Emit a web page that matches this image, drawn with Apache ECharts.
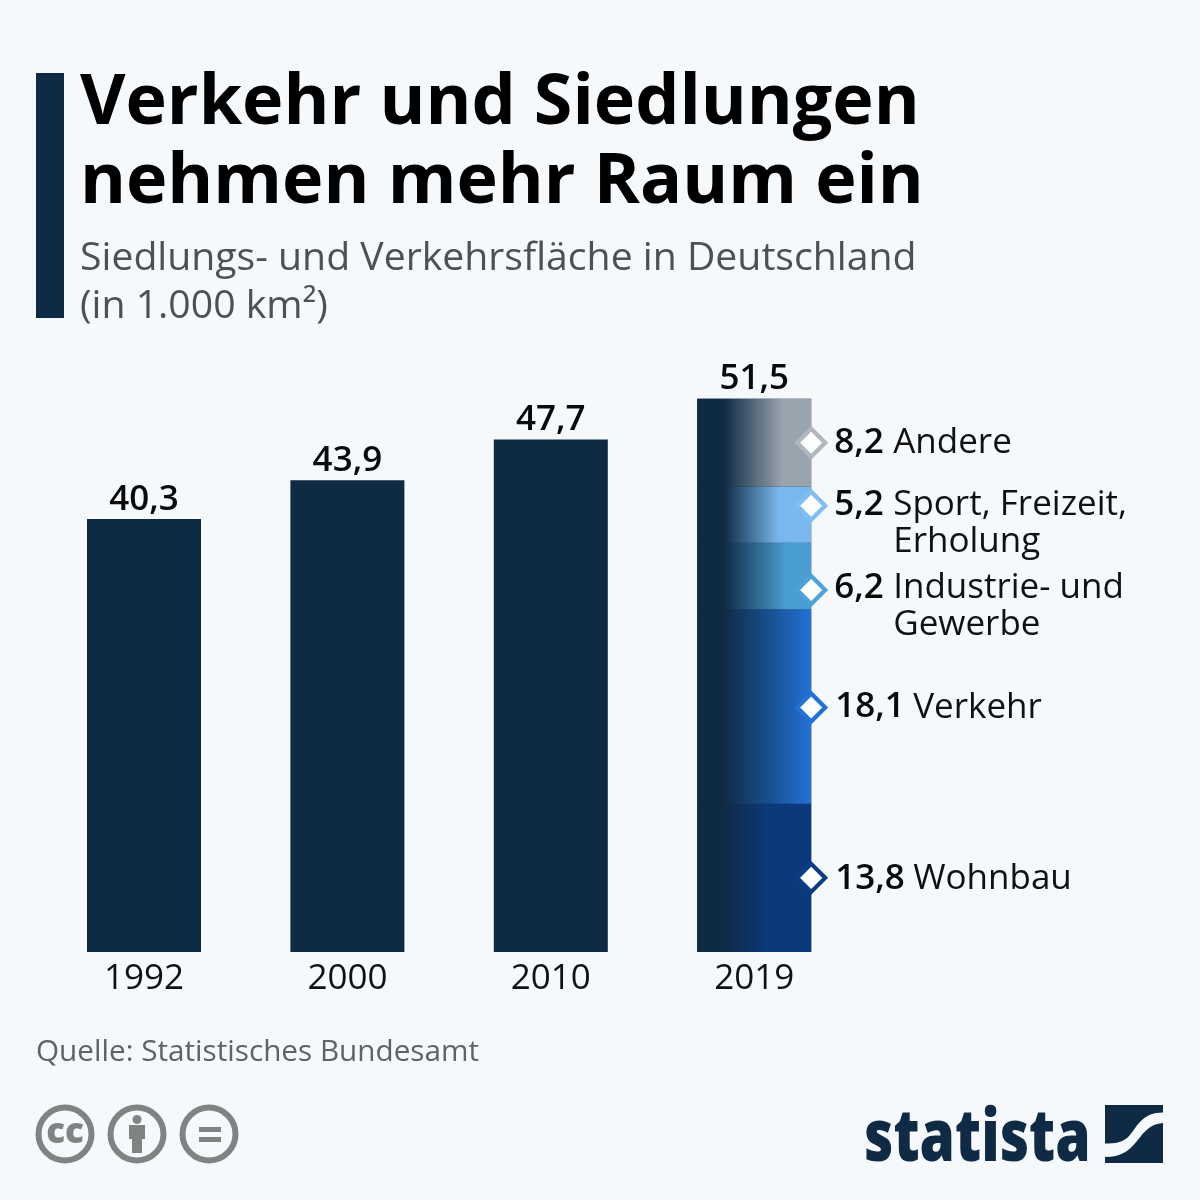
<!DOCTYPE html>
<html><head><meta charset="utf-8">
<style>html,body{margin:0;padding:0;background:#f5f9fc}#c{width:1200px;height:1200px}</style>
<script src="https://cdn.jsdelivr.net/npm/echarts@6/dist/echarts.min.js"></script>
</head><body><div id="c"></div>
<script>
const years = ['1992','2000','2010','2019'];
const totals = [40.3,43.9,47.7,51.5];
const segmentNames = ['Wohnbau','Verkehr','Industrie- und\nGewerbe','Sport, Freizeit,\nErholung','Andere'];
const segmentValues = [13.8,18.1,6.2,5.2,8.2];
const segmentColors = ['#0b397b','#2272d6','#4a9dd1','#79b8ee','#9aa4ae'];
const markerColors = ['#0b3d85','#2272d6','#4fa2d8','#7fbdf2','#b0b7bd'];
const gradientEnds = [0.62,1,0.78,0.72,0.75];
const dark = '#0f2a44', font = '"Open Sans"';
const markerNudge = [0,1,14,-9,0];
const labelNudge = [2,1,-1,0,1];
const fmt = v => v.toFixed(1).replace('.',',');

echarts.graphic.registerShape('statistaLogo', echarts.graphic.extendPath(
  'M1105 1105H1163V1112.5C1143 1112.5 1138 1125 1130 1135C1123 1143 1115 1143.5 1105 1143.5ZM1163 1123V1163H1105V1157C1121 1157 1129 1151 1137 1141C1145 1131 1150 1124 1163 1123Z', {}));
echarts.graphic.registerShape('personBody', echarts.graphic.extendPath(
  'M129 1125H145V1139H142V1153H132V1139H129Z', {}));

const chart = echarts.init(document.getElementById('c'),null,{renderer:'canvas'});
const grad = (c,e) => new echarts.graphic.LinearGradient(0,0,1,0,[
  {offset:0,color:dark},{offset:0.23,color:dark},{offset:e,color:c},{offset:1,color:c}]);

const segSeries = segmentValues.map((v,i)=>({
  type:'bar',stack:'s',barWidth:114,barGap:'-100%',silent:true,
  name:segmentNames[i],
  data:[null,null,null,v],
  itemStyle:{color:grad(segmentColors[i],gradientEnds[i])}
}));

let cum=0;
const markerData = segmentValues.map((v,i)=>{const m=cum+v/2;cum+=v;return [3,m,i];});

function renderMarker(params,api){
  const i=api.value(2);
  const p=api.coord([api.value(0),api.value(1)]);
  const cx=p[0]+57, cy=p[1]+markerNudge[i], h=14;
  const val=fmt(segmentValues[i]);
  const long=val.length>3;
  const n=labelNudge[i];
  return {type:'group',children:[
    {type:'polygon',shape:{points:[[cx,cy-h],[cx+h,cy],[cx,cy+h],[cx-h,cy]]},
     style:{fill:'#fdfefe',stroke:markerColors[i],lineWidth:4.2,lineJoin:'miter'}},
    {type:'text',x:cx+(long?24:23),y:cy-1+n,style:{text:val,font:'600 35px '+font,fill:'#0a0a0a',textAlign:'left',textVerticalAlign:'middle'}},
    {type:'text',x:cx+(long?102:82),y:cy-19+n,style:{text:segmentNames[i],font:'400 35px '+font,fill:'#111',textAlign:'left',textVerticalAlign:'top',lineHeight:37}}
  ]};
}

chart.setOption({
  animation:false,
  backgroundColor:'#f5f9fc',
  grid:{left:42.3,width:813.6,top:307.4,height:644.6},
  xAxis:{type:'category',data:years,axisLine:{show:false},axisTick:{show:false},
    axisLabel:{color:'#111',fontFamily:font,fontSize:35,margin:10}},
  yAxis:{type:'value',min:0,max:60,show:false},
  title:[
    {text:'Verkehr und Siedlungen\nnehmen mehr Raum ein',left:80,top:65,padding:0,
     textStyle:{fontFamily:font,fontWeight:700,fontSize:70,lineHeight:79,color:'#000'}},
    {text:'Siedlungs- und Verkehrsfläche in Deutschland\n(in 1.000 km²)',left:80,top:235,padding:0,
     textStyle:{fontFamily:font,fontWeight:400,fontSize:39.2,lineHeight:48,color:'#4b5256'}},
    {text:'Quelle: Statistisches Bundesamt',left:36,top:1034,padding:0,
     textStyle:{fontFamily:font,fontWeight:400,fontSize:29.7,lineHeight:38,color:'#5d6366'}}
  ],
  series:[
    {type:'bar',barWidth:114,barGap:'-100%',silent:true,name:'Gesamt',data:totals,
     itemStyle:{color:dark},
     label:{show:true,position:'top',distance:2,formatter:p=>fmt(p.value),
       color:'#0a0a0a',fontFamily:font,fontWeight:600,fontSize:35}},
    ...segSeries,
    {type:'custom',silent:true,name:'Marker',data:markerData,renderItem:renderMarker,z:10,clip:false,
     encode:{x:0,y:1}}
  ],
  graphic:[
    {type:'rect',shape:{x:36,y:73,width:28,height:245},style:{fill:dark}},
    ...[65,137,209].map(x=>({type:'circle',shape:{cx:x,cy:1134,r:26.5},style:{fill:'none',stroke:'#7d8482',lineWidth:6}})),
    {type:'text',x:65,y:1133,style:{text:'cc',font:'800 35px '+font,fill:'#7d8482',textAlign:'center',textVerticalAlign:'middle'}},
    {type:'circle',shape:{cx:137,cy:1119.5,r:4.5},style:{fill:'#7d8482'}},
    {type:'personBody',style:{fill:'#7d8482'}},
    {type:'rect',shape:{x:199,y:1127,width:22,height:5},style:{fill:'#7d8482'}},
    {type:'rect',shape:{x:199,y:1137,width:22,height:5},style:{fill:'#7d8482'}},
    {type:'text',x:864,y:1140,scaleX:0.79,style:{text:'statista',font:'800 72px '+font,fill:dark,textAlign:'left',textVerticalAlign:'middle'}},
    {type:'statistaLogo',style:{fill:dark}}
  ]
});
</script></body></html>
